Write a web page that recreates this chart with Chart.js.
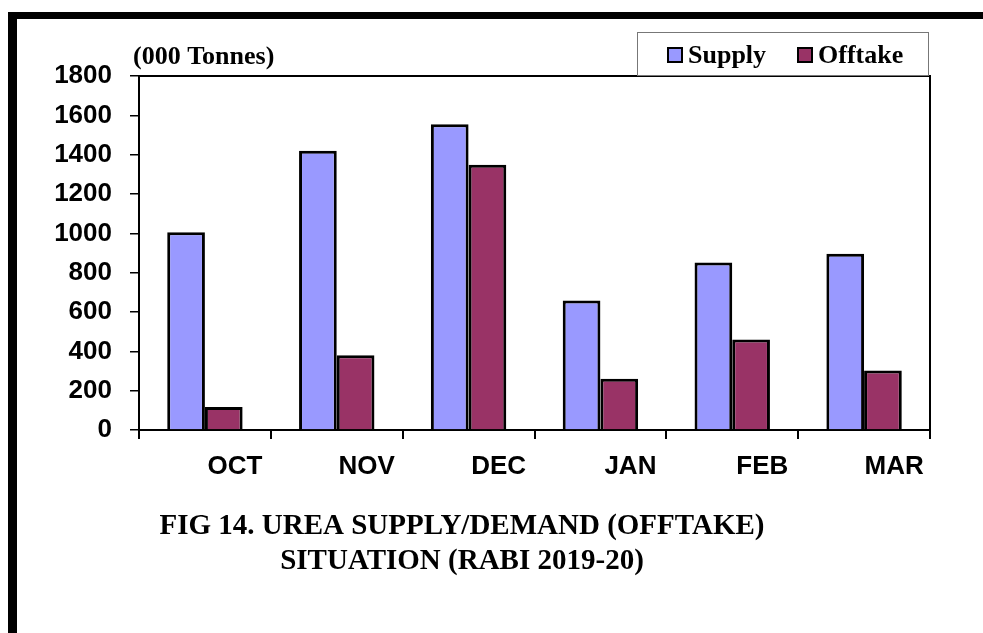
<!DOCTYPE html>
<html>
<head>
<meta charset="utf-8">
<title>Urea Supply/Demand (Offtake) Rabi 2019-20</title>
<script src="https://cdn.jsdelivr.net/npm/chart.js@4.4.1/dist/chart.umd.min.js"></script>
<style>
  html, body { margin: 0; padding: 0; background: #fff; }
  #wrap { position: relative; width: 983px; height: 633px; }
</style>
</head>
<body>
<div id="wrap"><canvas id="ureaChart"></canvas></div>
<script>
// ===== Data =====
const months = ["OCT", "NOV", "DEC", "JAN", "FEB", "MAR"];
const supply = [1005, 1420, 1555, 658, 852, 896];
const offtake = [117, 380, 1349, 261, 460, 303];
const yTicks = [0, 200, 400, 600, 800, 1000, 1200, 1400, 1600, 1800];

const unitLabel = "(000 Tonnes)";
const captionLines = ["FIG 14. UREA SUPPLY/DEMAND (OFFTAKE)", "SITUATION (RABI 2019-20)"];

const serifBold = "bold 26px 'Liberation Serif', 'Times New Roman', serif";

// frame, plot box, legend box and captions
const decorations = {
  id: "decorations",
  afterDraw(chart) {
    const ctx = chart.ctx;
    const area = chart.chartArea;
    ctx.save();

    // thick outer frame (top + left)
    ctx.fillStyle = "#000";
    ctx.fillRect(8, 12, 983, 7);
    ctx.fillRect(8, 12, 9, 633);

    // plot area border (top, right)
    ctx.strokeStyle = "#000";
    ctx.lineWidth = 2;
    ctx.beginPath();
    ctx.moveTo(area.left, area.top);
    ctx.lineTo(area.right, area.top);
    ctx.lineTo(area.right, area.bottom);
    ctx.stroke();

    // legend box
    ctx.strokeStyle = "#777";
    ctx.lineWidth = 1;
    ctx.strokeRect(637.5, 32.5, 291, 43);

    ctx.font = serifBold;
    ctx.textBaseline = "middle";
    ctx.textAlign = "left";
    const legendX = [668, 798];
    chart.data.datasets.forEach((ds, i) => {
      const x = legendX[i];
      ctx.fillStyle = ds.backgroundColor;
      ctx.fillRect(x, 48, 14, 14);
      ctx.strokeStyle = "#000";
      ctx.lineWidth = 2;
      ctx.strokeRect(x, 48, 14, 14);
      ctx.fillStyle = "#000";
      ctx.fillText(ds.label, x + 20, 56);
    });

    // unit label
    ctx.fillText(unitLabel, 133, 57);

    // caption
    ctx.font = "bold 29px 'Liberation Serif', 'Times New Roman', serif";
    ctx.textAlign = "center";
    ctx.fillText(captionLines[0], 462, 527);
    ctx.fillText(captionLines[1], 462, 562);

    ctx.restore();
  }
};

const ctx = document.getElementById("ureaChart");
new Chart(ctx, {
  type: "bar",
  data: {
    labels: months,
    datasets: [
      {
        label: "Supply",
        data: supply,
        backgroundColor: "#9999FF",
        borderColor: "#000",
        borderWidth: 3,
        categoryPercentage: 0.572,
        barPercentage: 1.0,
      },
      {
        label: "Offtake",
        data: offtake,
        backgroundColor: "#993366",
        borderColor: "#000",
        borderWidth: 3,
        categoryPercentage: 0.572,
        barPercentage: 1.0,
      },
    ],
  },
  options: {
    responsive: true,
    maintainAspectRatio: false,
    animation: false,
    layout: { padding: { top: 76, right: 53, left: 0, bottom: 0 } },
    plugins: {
      legend: { display: false },
      title: { display: false },
      tooltip: { enabled: false },
    },
    scales: {
      x: {
        offset: true,
        grid: {
          offset: true,
          drawOnChartArea: false,
          drawTicks: true,
          tickLength: 9,
          color: "#000",
          lineWidth: 2,
        },
        border: { color: "#000", width: 2 },
        ticks: {
          color: "#000",
          padding: 12,
          labelOffset: 30,
          maxRotation: 0,
          font: { family: "'Liberation Sans', Arial, sans-serif", size: 26, weight: "bold" },
        },
        afterFit(scale) { scale.height = 203; },
      },
      y: {
        min: 0,
        max: 1800,
        afterBuildTicks(scale) { scale.ticks = yTicks.map(v => ({ value: v })); },
        grid: {
          drawOnChartArea: false,
          drawTicks: true,
          tickLength: 9,
          color: "#000",
          lineWidth: 1.5,
        },
        border: { color: "#000", width: 2 },
        ticks: {
          color: "#000",
          padding: 18,
          callback: v => String(v),
          font: { family: "'Liberation Sans', Arial, sans-serif", size: 26, weight: "bold" },
        },
        afterFit(scale) { scale.width = 139; },
      },
    },
  },
  plugins: [decorations],
});
</script>
</body>
</html>
